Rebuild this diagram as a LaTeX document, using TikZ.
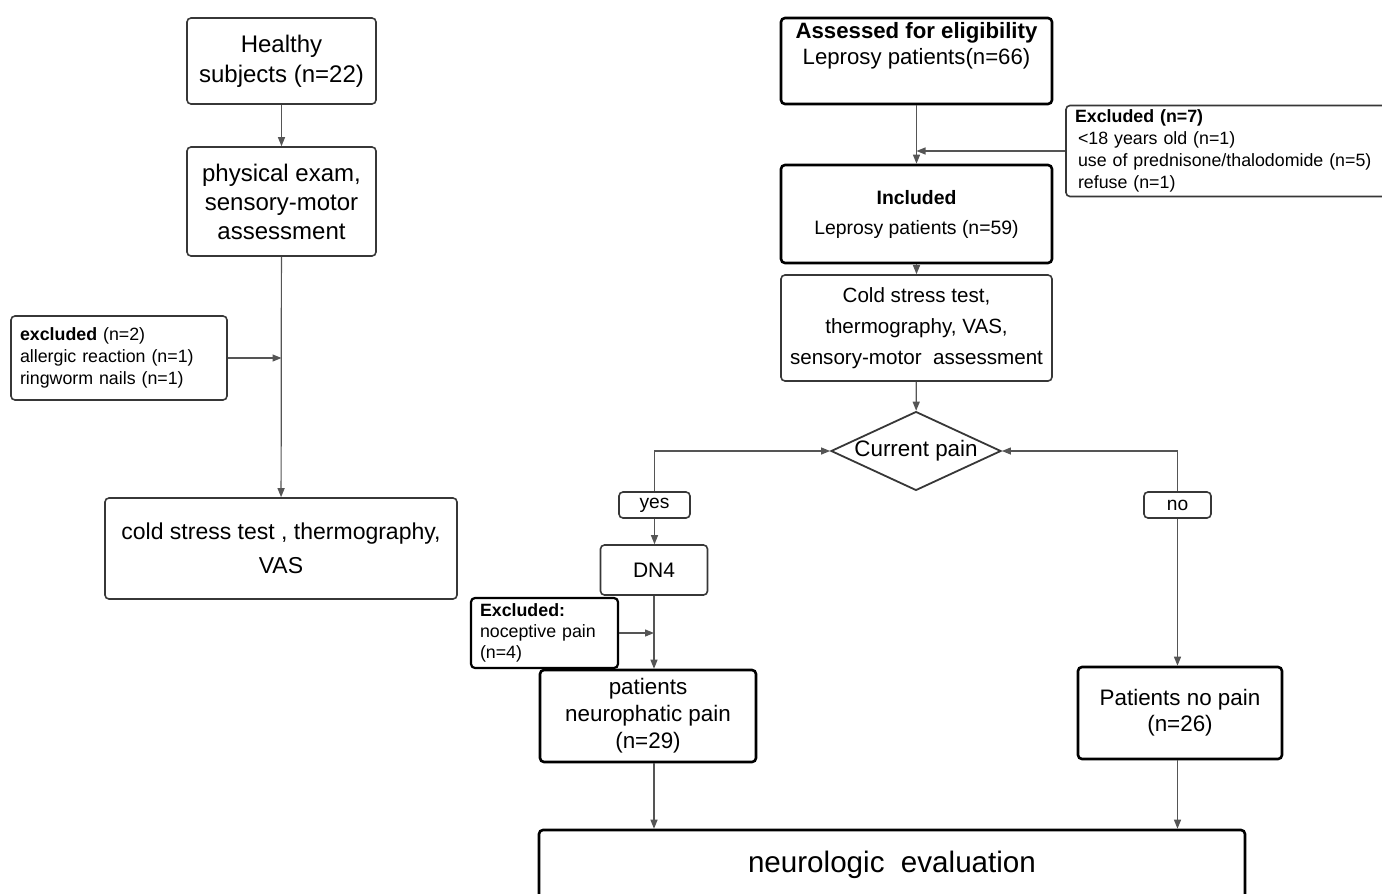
\documentclass[tikz,border=0pt]{standalone}
\usepackage{fontspec}
\setmainfont{Liberation Sans}
\usetikzlibrary{positioning, arrows.meta, shapes.geometric, calc}
\definecolor{linegray}{RGB}{85,85,85}
\definecolor{boxgray}{RGB}{55,55,55}
\tikzset{
    stepbox/.style={rectangle, rounded corners=2pt, draw=boxgray, line width=0.8pt, align=center, inner sep=2pt},
    stepbold/.style={stepbox, draw=black, line width=1.3pt},
    exclbox/.style={rectangle, rounded corners=2pt, draw=boxgray, line width=0.8pt, align=left, inner xsep=4.5pt, inner ysep=1pt, font=\fontsize{8.9}{11}\selectfont},
    exclbold/.style={exclbox, draw=black, line width=1.1pt},
    tagbox/.style={rectangle, rounded corners=2pt, draw=boxgray, line width=0.8pt, minimum height=13pt, inner sep=0pt, font=\fontsize{9.6}{11}\selectfont},
    decision/.style={diamond, draw=boxgray, line width=0.9pt, aspect=2.125, inner sep=0pt, minimum width=85pt, font=\fontsize{11.2}{13}\selectfont},
    txt/.style={align=center, inner sep=0pt},
    arr/.style={-{Triangle[length=4.5pt, width=3.5pt]}, line width=0.6pt, color=linegray},
    ln/.style={line width=0.6pt, color=linegray}
}
\begin{document}
\begin{tikzpicture}[x=0.5pt, y=-0.5pt]
    \useasboundingbox (0,0) rectangle (1382,894);
    % healthy subjects column
    \node[stepbox, minimum width=94.5pt, minimum height=43pt, font=\fontsize{12}{15}\selectfont] (h1) at (281.5,61) {Healthy\\subjects (n=22)};
    \node[stepbox, minimum width=94.5pt, minimum height=54.5pt, font=\fontsize{12}{14.5}\selectfont] (h2) at (281.5,201.5) {physical exam,\\sensory-motor\\assessment};
    \node[exclbox, text width=99pt, minimum height=42pt] (ex1) at (119,358) {\textbf{excluded} (n=2)\\allergic reaction (n=1)\\ringworm nails (n=1)};
    \node[stepbox, minimum width=176pt, minimum height=50.5pt, font=\fontsize{11.5}{17}\selectfont] (h3) at (281,548.5) {cold stress test , thermography,\\VAS};
    \coordinate (j1) at (h2.south |- ex1.east);
    % leprosy patients column
    \node[stepbold, minimum width=135.5pt, minimum height=43pt] (p1) at (916.5,61) {};
    \node[txt, font=\fontsize{11.1}{13}\selectfont] (p1t) at (916.5,46) {\textbf{Assessed for eligibility}\\Leprosy patients(n=66)};
    \node[exclbox, text width=153pt, minimum width=162pt, minimum height=45.5pt] (ex2) at (1228,151) {\textbf{Excluded (n=7)}\\\hspace{1.5pt}<18 years old (n=1)\\\hspace{1.5pt}use of prednisone/thalodomide (n=5)\\\hspace{1.5pt}refuse (n=1)};
    \coordinate (j2) at (p1.south |- ex2.west);
    \node[stepbold, minimum width=135.5pt, minimum height=49pt, font=\fontsize{9.7}{15}\selectfont] (p2) at (916.5,214) {\textbf{Included}\\Leprosy patients (n=59)};
    \node[stepbox, minimum width=135.5pt, minimum height=53pt, font=\fontsize{10.3}{15.5}\selectfont] (p3) at (916.5,328) {Cold stress test,\\thermography, VAS,\\sensory-motor\ \ assessment};
    \node[decision] (cp) at (916,451) {Current pain};
    \node[tagbox, minimum width=35.5pt] (yes) at (654.5,505) {yes};
    \node[tagbox, minimum width=33.5pt] (no) at (1177.5,505) {no};
    \node[stepbox, minimum width=53.5pt, minimum height=25pt, font=\fontsize{10.5}{12}\selectfont] (dn) at (654,570) {DN4};
    \node[exclbold, text width=64.5pt, minimum height=35pt, font=\fontsize{8.9}{10.5}\selectfont] (ex3) at (544.5,633) {\textbf{Excluded:}\\noceptive pain\\(n=4)};
    \coordinate (j3) at (dn.south |- ex3.east);
    \node[stepbold, minimum width=108pt, minimum height=46pt, font=\fontsize{11.2}{13.5}\selectfont] (np) at (648,716) {patients\\neurophatic pain\\(n=29)};
    \node[stepbold, minimum width=102pt, minimum height=46pt, font=\fontsize{11.2}{13}\selectfont] (nn) at (1180,713) {Patients no pain\\(n=26)};
    \node[stepbold, minimum width=353pt, minimum height=35pt, font=\fontsize{14.8}{17}\selectfont] (ne) at (892,865) {neurologic\ \ evaluation};
    % connectors
    \draw[arr] (h1) -- (h2);
    \draw[arr] (h2) -- (h3);
    \draw[arr] (ex1.east) -- (j1);
    \draw[arr] (p1) -- (p2);
    \draw[arr] (ex2.west) -- (j2);
    \draw[arr] (p2) -- (p3);
    \draw[arr] (p3) -- (cp);
    \draw[arr] (yes.north) |- (cp.west);
    \draw[arr] (no.north) |- (cp.east);
    \draw[arr] (yes.south) -- (yes.south |- dn.north);
    \draw[arr] (dn.south) -- (dn.south |- np.north);
    \draw[arr] (ex3.east) -- (j3);
    \draw[arr] (no.south) -- (no.south |- nn.north);
    \draw[arr] (dn.south |- np.south) -- (dn.south |- ne.north);
    \draw[arr] (no.south |- nn.south) -- (no.south |- ne.north);
\end{tikzpicture}
\end{document}
